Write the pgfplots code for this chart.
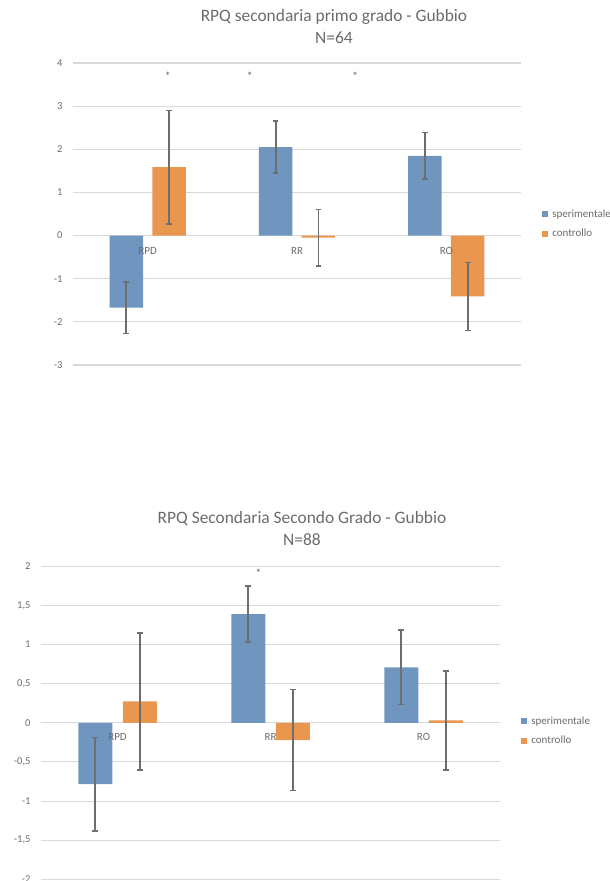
\documentclass[border=0pt]{standalone}
\usepackage{pgfplots}
\pgfplotsset{compat=1.18}
\usepackage{fontspec}
\setmainfont{Carlito}
\definecolor{sper}{HTML}{7096BF}
\definecolor{ctrl}{HTML}{E9964E}
\definecolor{gridc}{HTML}{D9D9D9}
\definecolor{txt}{HTML}{6B6B6B}
\definecolor{errc}{HTML}{6E6E6E}
\pgfplotsset{
  myaxis/.style={
    scale only axis,
    xmin=-0.5, xmax=2.5, xtick=\empty,
    ymajorgrids, grid style={gridc, line width=1.1pt},
    axis line style={draw=none},
    major tick length=0pt,
    tick label style={font=\fontsize{10.5}{12}\selectfont, text=txt},
    /pgf/number format/assume math mode=true,
    yticklabel style={xshift=-7pt},
    legend style={draw=none, fill=none, anchor=west, inner sep=0pt,
      font=\fontsize{11}{13}\selectfont, text=txt, row sep=6pt,
      /tikz/every odd column/.append style={column sep=2pt}},
    legend cell align=left,
  },
  sqlegend/.style={legend image code/.code={\fill[##1, draw=none] (0pt,-3pt) rectangle (6pt,3pt);}},
  myerr/.style={error bars/.cd, y dir=both, y explicit,
    error bar style={errc, line width=1.8pt},
    error mark options={errc, line width=1.6pt, mark size=2.8pt, rotate=90}},
}
\begin{document}
\begin{tikzpicture}
% ---------- Chart 1 ----------
\begin{axis}[myaxis,
  at={(73pt,-365pt)}, anchor=south west,
  width=448pt, height=302pt,
  ymin=-3, ymax=4, ytick={-3,-2,-1,0,1,2,3,4},
  ybar=9.3pt, bar width=33.5pt, sqlegend,
  legend style={at={(1.047,0.467)}},
]
\addplot[fill=sper, draw=none, myerr] coordinates {
  (0,-1.67) +- (0,0.60)
  (1,2.05) +- (0,0.60)
  (2,1.85) +- (0,0.54)
};
\addlegendentry{sperimentale}
\addplot[fill=ctrl, draw=none, myerr] coordinates {
  (0,1.585) +- (0,1.315)
  (1,-0.05) +- (0,0.65)
  (2,-1.41) +- (0,0.79)
};
\addlegendentry{controllo}
\node[font=\fontsize{11}{13}\selectfont, text=txt] at (axis cs:0,0) [yshift=-15pt] {RPD};
\node[font=\fontsize{11}{13}\selectfont, text=txt] at (axis cs:1,0) [yshift=-15pt] {RR};
\node[font=\fontsize{11}{13}\selectfont, text=txt] at (axis cs:2,0) [yshift=-15pt] {RO};
\node[font=\fontsize{12}{13}\selectfont, text=txt] at (axis cs:0.136,3.70) {*};
\node[font=\fontsize{12}{13}\selectfont, text=txt] at (axis cs:0.685,3.70) {*};
\node[font=\fontsize{12}{13}\selectfont, text=txt] at (axis cs:1.389,3.70) {*};
\end{axis}
\node[font=\fontsize{17.4}{20}\selectfont, text=txt] at (334pt,-17pt) {RPQ secondaria primo grado - Gubbio};
\node[font=\fontsize{17.4}{20}\selectfont, text=txt] at (334pt,-38pt) {N=64};
% ---------- Chart 2 ----------
\begin{axis}[myaxis,
  at={(41pt,-879.3pt)}, anchor=south west,
  width=459pt, height=313pt,
  ymin=-2, ymax=2, ytick={-2,-1.5,-1,-0.5,0,0.5,1,1.5,2},
  /pgf/number format/.cd, use comma, fixed, /pgfplots/.cd,
  ybar=10.5pt, bar width=34pt, sqlegend,
  legend style={at={(1.046,0.474)}},
]
\addplot[fill=sper, draw=none, myerr] coordinates {
  (0,-0.785) +- (0,0.595)
  (1,1.39) +- (0,0.36)
  (2,0.71) +- (0,0.475)
};
\addlegendentry{sperimentale}
\addplot[fill=ctrl, draw=none, myerr] coordinates {
  (0,0.275) +- (0,0.875)
  (1,-0.22) +- (0,0.645)
  (2,0.03) +- (0,0.63)
};
\addlegendentry{controllo}
\node[font=\fontsize{11}{13}\selectfont, text=txt] at (axis cs:0,0) [yshift=-14pt] {RPD};
\node[font=\fontsize{11}{13}\selectfont, text=txt] at (axis cs:1,0) [yshift=-14pt] {RR};
\node[font=\fontsize{11}{13}\selectfont, text=txt] at (axis cs:2,0) [yshift=-14pt] {RO};
\node[font=\fontsize{12}{13}\selectfont, text=txt] at (axis cs:0.92,1.91) {*};
\end{axis}
\node[font=\fontsize{17.4}{20}\selectfont, text=txt] at (302pt,-519pt) {RPQ Secondaria Secondo Grado - Gubbio};
\node[font=\fontsize{17.4}{20}\selectfont, text=txt] at (302pt,-540pt) {N=88};
\pgfresetboundingbox
\path (0pt,0pt) rectangle (610pt,-881pt);
\end{tikzpicture}
\end{document}
